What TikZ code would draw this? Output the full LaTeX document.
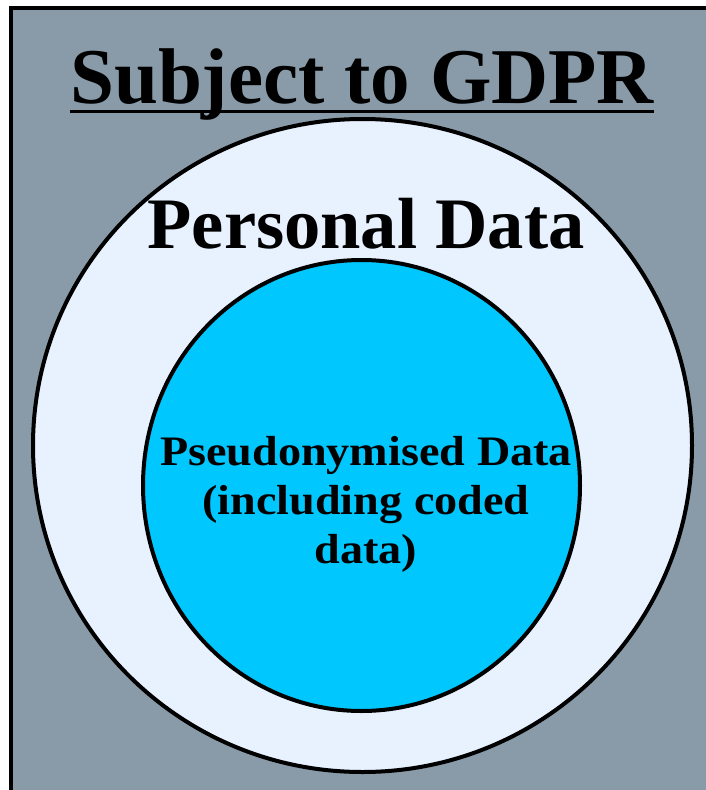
\documentclass[tikz,border=0pt]{standalone}
\usepackage{fontspec}
\setmainfont{Liberation Serif}
\definecolor{slate}{RGB}{137,155,168}
\definecolor{paleblue}{RGB}{232,242,255}
\definecolor{skycyan}{RGB}{0,200,255}
\tikzset{
  ring/.style={draw=black, line width=4pt},
  label/.style={inner sep=0pt, text=black, font=\bfseries},
}
\begin{document}
\begin{tikzpicture}[x=1pt,y=-1pt]
\useasboundingbox (0,0) rectangle (706,790);
\begin{scope}
\clip (0,0) rectangle (706,790);
\fill[white] (0,0) rectangle (706,790);
\fill[slate] (11,8) rectangle (1000,1000);
\draw[line width=4pt] (11,1000) -- (11,8) -- (1000,8);
\end{scope}
\node[label, anchor=base, font=\bfseries\fontsize{79}{90}\selectfont] (title) at (362,103) {Subject to GDPR};
\draw[line width=3pt] (title.west |- 0,111) -- (title.east |- 0,111);
\draw[ring, fill=paleblue] (362.5,445.5) ellipse [x radius=329.5, y radius=326.5];
\node[label, anchor=base, font=\bfseries\fontsize{72.5}{80}\selectfont] (personal) at (366,248) {Personal Data};
\draw[ring, fill=skycyan] (361.5,485.5) ellipse [x radius=218.5, y radius=225.5];
\node[label, anchor=base, xscale=1.1, align=center, font=\bfseries\fontsize{42}{49}\selectfont] (pseudo) at (366,563) {Pseudonymised Data\\(including coded\\data)};
\end{tikzpicture}
\end{document}
